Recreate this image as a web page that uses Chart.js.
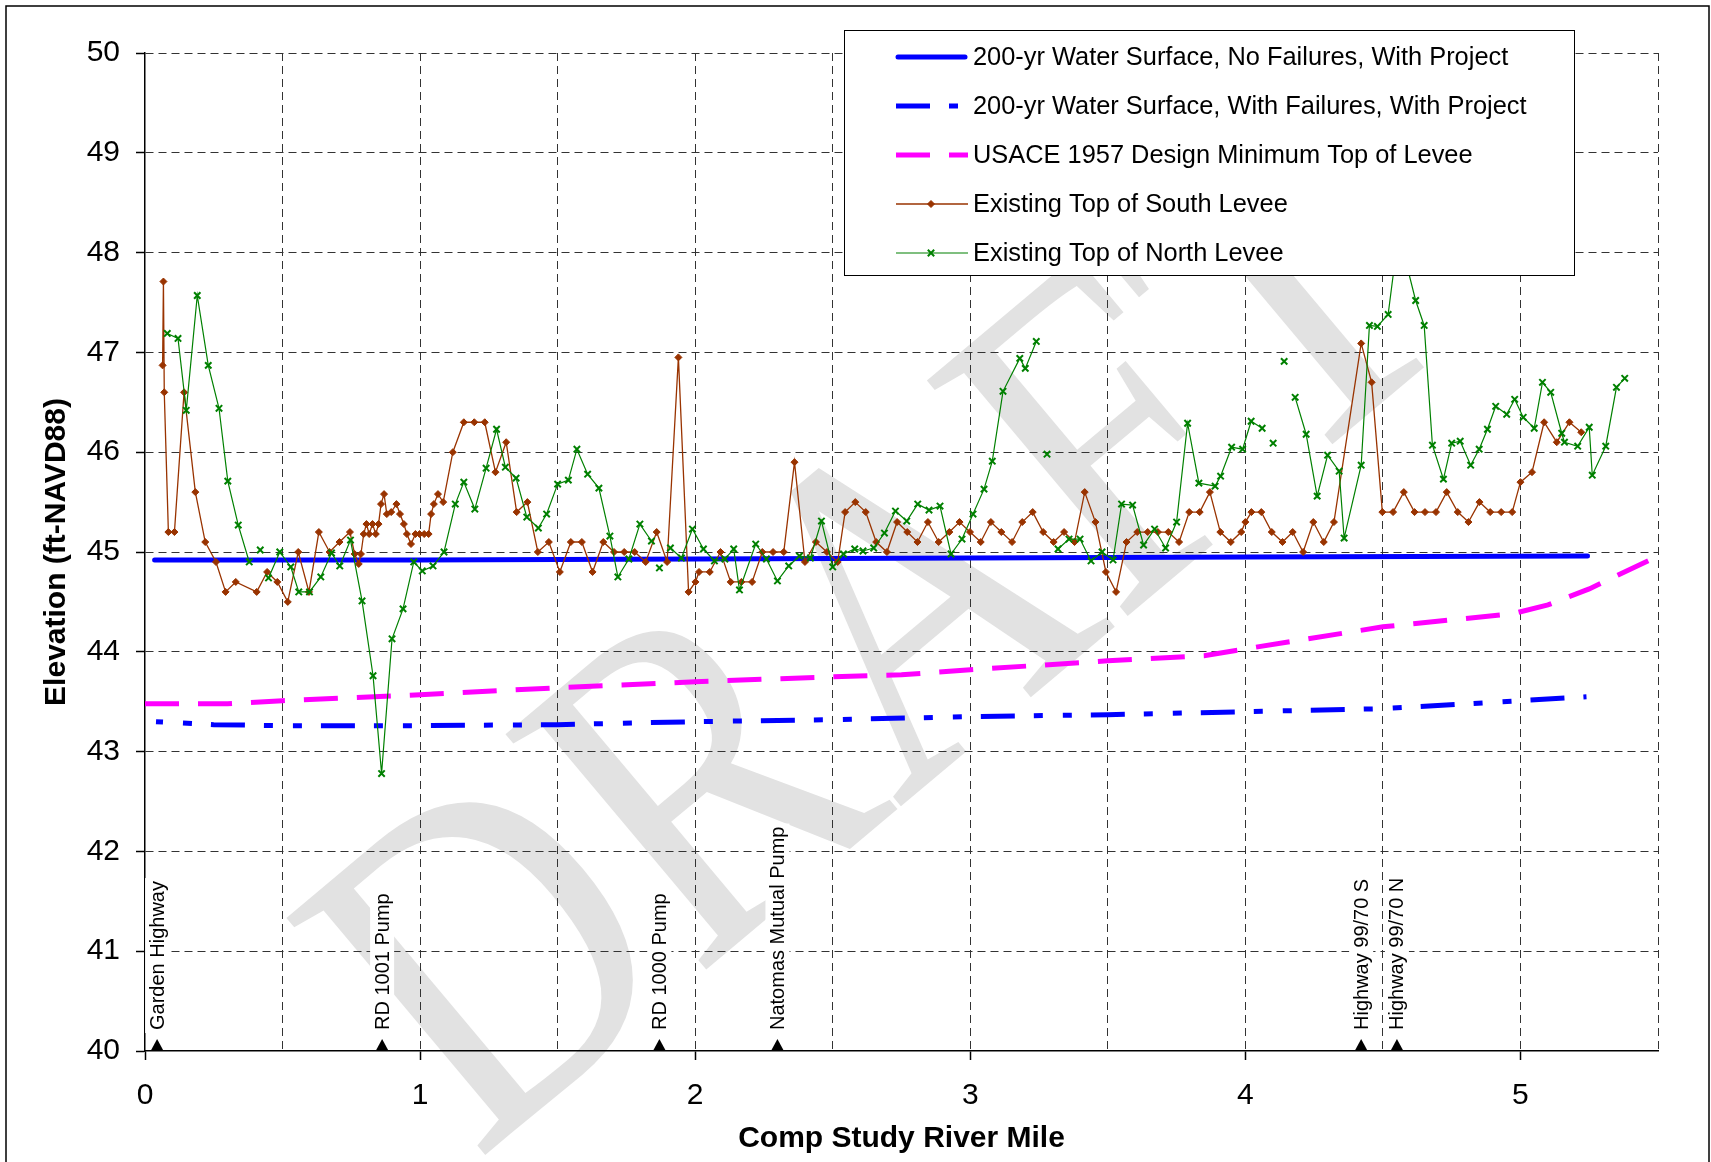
<!DOCTYPE html>
<html>
<head>
<meta charset="utf-8">
<script src="https://cdn.jsdelivr.net/npm/chart.js@4.4.1/dist/chart.umd.min.js"></script>
<style>
    html, body { margin: 0; padding: 0; background: #fff; }
</style>
</head>
<body>
<canvas id="myChart" width="1711" height="1162"></canvas>
<script>
// 200-yr water surface, no failures (mile, ft-NAVD88)
const noFailMile = [0.035, 1.0, 2.0, 3.0, 4.0, 5.244];
const noFailElev = [44.92, 44.92, 44.93, 44.94, 44.95, 44.96];

// 200-yr water surface, with failures
const withFailMile = [0.04, 0.25, 0.5, 1.0, 1.5, 2.0, 2.5, 3.0, 3.5, 4.0, 4.5, 5.0, 5.24];
const withFailElev = [43.30, 43.27, 43.26, 43.26, 43.27, 43.30, 43.32, 43.35, 43.37, 43.40, 43.43, 43.51, 43.55];

// USACE 1957 design minimum top of levee
const usaceMile = [0, 0.3, 0.5, 1.0, 1.5, 2.0, 2.5, 2.75, 3.0, 3.5, 3.85, 4.0, 4.5, 4.75, 4.97, 5.1, 5.25, 5.5];
const usaceElev = [43.48, 43.48, 43.51, 43.57, 43.64, 43.70, 43.75, 43.77, 43.82, 43.91, 43.96, 44.03, 44.25, 44.32, 44.38, 44.47, 44.63, 44.96];

// Existing top of south levee
const southMile = [
    0.064, 0.067, 0.070, 0.085, 0.107, 0.142, 0.183, 0.219, 0.258, 0.293, 0.330, 0.406, 0.444, 0.481, 0.519,
    0.557, 0.596, 0.632, 0.671, 0.707, 0.745, 0.762, 0.777, 0.785, 0.795, 0.805, 0.815, 0.827, 0.839, 0.849,
    0.858, 0.869, 0.879, 0.895, 0.914, 0.927, 0.941, 0.952, 0.967, 0.983, 0.998, 1.015, 1.031, 1.040, 1.050,
    1.065, 1.084, 1.119, 1.159, 1.197, 1.235, 1.274, 1.313, 1.351, 1.390, 1.428, 1.468, 1.508, 1.548, 1.588,
    1.627, 1.666, 1.705, 1.742, 1.780, 1.820, 1.860, 1.898, 1.939, 1.976, 2.001, 2.014, 2.053, 2.092, 2.129,
    2.168, 2.207, 2.244, 2.283, 2.322, 2.361, 2.399, 2.439, 2.479, 2.518, 2.545, 2.582, 2.620, 2.658, 2.697,
    2.734, 2.771, 2.808, 2.846, 2.885, 2.924, 2.961, 2.999, 3.038, 3.075, 3.113, 3.152, 3.189, 3.227, 3.265,
    3.303, 3.341, 3.379, 3.416, 3.455, 3.493, 3.530, 3.568, 3.607, 3.645, 3.682, 3.720, 3.759, 3.796, 3.834,
    3.871, 3.909, 3.947, 3.985, 4.000, 4.022, 4.058, 4.096, 4.135, 4.172, 4.210, 4.247, 4.285, 4.322, 4.421,
    4.459, 4.498, 4.537, 4.576, 4.615, 4.653, 4.693, 4.732, 4.772, 4.811, 4.851, 4.890, 4.930, 4.970, 5.000,
    5.042, 5.086, 5.132, 5.178, 5.221
];
const southElev = [
    46.87, 47.71, 46.60, 45.20, 45.20, 46.60, 45.60, 45.10, 44.90, 44.60, 44.70, 44.60, 44.80, 44.70, 44.50,
    45.00, 44.60, 45.20, 45.00, 45.10, 45.20, 44.98, 44.88, 44.98, 45.18, 45.28, 45.18, 45.28, 45.18, 45.28,
    45.48, 45.58, 45.38, 45.40, 45.48, 45.38, 45.28, 45.18, 45.08, 45.18, 45.18, 45.18, 45.18, 45.38, 45.48,
    45.58, 45.50, 46.00, 46.30, 46.30, 46.30, 45.80, 46.10, 45.40, 45.50, 45.00, 45.10, 44.80, 45.10, 45.10,
    44.80, 45.10, 45.00, 45.00, 45.00, 44.90, 45.20, 44.90, 46.95, 44.60, 44.70, 44.80, 44.80, 45.00, 44.70,
    44.70, 44.70, 45.00, 45.00, 45.00, 45.90, 44.90, 45.10, 45.00, 44.90, 45.40, 45.50, 45.40, 45.10, 45.00,
    45.30, 45.20, 45.10, 45.30, 45.10, 45.20, 45.30, 45.20, 45.10, 45.30, 45.20, 45.10, 45.30, 45.40, 45.20,
    45.10, 45.20, 45.10, 45.60, 45.30, 44.80, 44.60, 45.10, 45.20, 45.20, 45.20, 45.20, 45.10, 45.40, 45.40,
    45.60, 45.20, 45.10, 45.20, 45.30, 45.40, 45.40, 45.20, 45.10, 45.20, 45.00, 45.30, 45.10, 45.30, 47.09,
    46.70, 45.40, 45.40, 45.60, 45.40, 45.40, 45.40, 45.60, 45.40, 45.30, 45.50, 45.40, 45.40, 45.40, 45.70,
    45.80, 46.30, 46.10, 46.30, 46.20
];

// Existing top of north levee (null = break in the surveyed line)
const northMile = [
    0.081, 0.120, 0.150, 0.190, 0.230, 0.269, 0.301, 0.339, 0.379, 0.400, 0.419, 0.435, 0.449, 0.490, 0.530,
    0.559, 0.598, 0.639, 0.678, 0.708, 0.747, 0.789, 0.829, 0.860, 0.898, 0.938, 0.977, 1.008, 1.047, 1.087,
    1.128, 1.159, 1.199, 1.240, 1.278, 1.310, 1.349, 1.388, 1.430, 1.460, 1.500, 1.539, 1.570, 1.609, 1.650,
    1.690, 1.719, 1.759, 1.799, 1.841, 1.855, 1.870, 1.890, 1.910, 1.950, 1.990, 2.030, 2.070, 2.108, 2.140,
    2.161, 2.220, 2.259, 2.299, 2.340, 2.379, 2.419, 2.459, 2.500, 2.539, 2.580, 2.610, 2.649, 2.688, 2.728,
    2.769, 2.809, 2.850, 2.890, 2.930, 2.970, 3.010, 3.050, 3.080, 3.119, 3.180, 3.200, 3.240, 3.260, 3.279,
    3.300, 3.319, 3.359, 3.399, 3.439, 3.479, 3.519, 3.550, 3.590, 3.630, 3.670, 3.710, 3.750, 3.790, 3.831,
    3.890, 3.910, 3.950, 3.990, 4.021, 4.061, 4.080, 4.101, 4.120, 4.141, 4.160, 4.181, 4.221, 4.261, 4.299,
    4.341, 4.359, 4.421, 4.451, 4.480, 4.519, 4.557, 4.619, 4.650, 4.680, 4.720, 4.750, 4.781, 4.819, 4.850,
    4.880, 4.910, 4.950, 4.979, 5.010, 5.050, 5.080, 5.110, 5.150, 5.160, 5.208, 5.250, 5.261, 5.310, 5.349,
    5.379
];
const northElev = [
    47.19, 47.14, 46.42, 47.57, 46.87, 46.44, 45.71, 45.27, 44.90, null, 45.02, null, 44.74, 45.00, 44.85,
    44.60, 44.60, 44.75, 44.99, 44.86, 45.12, 44.51, 43.76, 42.78, 44.13, 44.43, 44.90, 44.81, 44.86, 45.00,
    45.48, 45.70, 45.43, 45.84, 46.23, 45.85, 45.74, 45.35, 45.24, 45.38, 45.68, 45.72, 46.03, 45.78, 45.64,
    45.16, 44.75, 44.93, 45.28, 45.11, null, 44.84, null, 45.04, 44.94, 45.23, 45.03, 44.91, 44.93, 45.03,
    44.62, 45.08, 44.93, 44.71, 44.86, 44.96, 44.94, 45.31, 44.85, 44.98, 45.03, 45.01, 45.04, 45.19, 45.41,
    45.31, 45.48, 45.42, 45.46, 44.98, 45.13, 45.38, 45.63, 45.91, 46.61, 46.94, 46.84, 47.11, null, 45.98,
    null, 45.03, 45.13, 45.13, 44.91, 45.00, 44.92, 45.48, 45.47, 45.07, 45.23, 45.04, 45.30, 46.29, 45.69,
    45.66, 45.76, 46.05, 46.03, 46.31, 46.24, null, 46.09, null, 46.91, null, 46.55, 46.18, 45.56, 45.97,
    45.81, 45.14, 45.87, 47.27, 47.26, 47.38, 48.20, 47.52, 47.27, 46.07, 45.73, 46.09, 46.11, 45.87, 46.03,
    46.23, 46.46, 46.38, 46.53, 46.35, 46.24, 46.70, 46.60, 46.19, 46.10, 46.06, 46.25, 45.77, 46.06, 46.65,
    46.74
];

// Structures marked along the axis
const structMile = [0.044, 0.862, 1.870, 2.299, 4.421, 4.551];
const structLabel = ['Garden Highway', 'RD 1001 Pump', 'RD 1000 Pump', 'Natomas Mutual Pump', 'Highway 99/70 S', 'Highway 99/70 N'];

const FONT = '"Liberation Sans", Arial, sans-serif';

function toPoints(xs, ys) {
    return xs.map((x, i) => ({ x: x, y: ys[i] }));
}

// White page, DRAFT watermark
const background = {
    id: 'background',
    beforeDraw(chart) {
        const c = chart.ctx;
        c.save();
        c.fillStyle = '#fff';
        c.fillRect(0, 0, chart.width, chart.height);
        c.translate(894, 650);
        c.rotate(-40 * Math.PI / 180);
        c.scale(0.88, 1.05);
        c.font = '450px "Liberation Serif", serif';
        c.fillStyle = '#e2e2e2';
        c.textAlign = 'center';
        c.textBaseline = 'middle';
        c.fillText('DRAFT', 0, 0);
        c.restore();
    }
};

// Triangles and vertical labels for the structures
const structures = {
    id: 'structures',
    afterDatasetsDraw(chart) {
        const c = chart.ctx;
        const x = chart.scales.x, y = chart.scales.y;
        const base = y.getPixelForValue(40);
        c.save();
        c.font = '20px ' + FONT;
        structMile.forEach((m, i) => {
            const px = x.getPixelForValue(m);
            c.save();
            c.translate(px, base - 21);
            c.rotate(-Math.PI / 2);
            const w = c.measureText(structLabel[i]).width;
            c.fillStyle = '#fff';
            c.fillRect(-3, -12, w + 6, 24);
            c.fillStyle = '#000';
            c.textAlign = 'left';
            c.textBaseline = 'middle';
            c.fillText(structLabel[i], 0, 1);
            c.restore();

            c.fillStyle = '#000';
            c.beginPath();
            c.moveTo(px, base - 12);
            c.lineTo(px - 6.5, base);
            c.lineTo(px + 6.5, base);
            c.closePath();
            c.fill();
        });
        c.restore();
    }
};

// Boxed legend in the upper right
const legendBox = {
    id: 'legendBox',
    afterDraw(chart) {
        const c = chart.ctx;
        const left = 844, top = 30, width = 730, height = 245;
        c.save();
        c.fillStyle = '#fff';
        c.fillRect(left, top, width, height);
        c.strokeStyle = '#000';
        c.lineWidth = 1;
        c.strokeRect(left + 0.5, top + 0.5, width, height);
        c.font = '25.4px ' + FONT;
        c.textBaseline = 'middle';
        c.textAlign = 'left';
        chart.data.datasets.forEach((ds, i) => {
            const yy = top + 27 + i * 49;
            c.save();
            c.strokeStyle = ds.borderColor;
            c.lineWidth = ds.borderWidth;
            c.setLineDash(ds.borderDash || []);
            c.lineCap = ds.borderCapStyle || 'butt';
            c.beginPath();
            if (c.lineCap === 'round') {
                c.moveTo(898, yy);
                c.lineTo(965, yy);
            } else {
                c.moveTo(896, yy);
                c.lineTo(968, yy);
            }
            c.stroke();
            c.restore();
            if (ds.pointRadius > 0) {
                c.save();
                c.fillStyle = ds.pointBackgroundColor;
                c.strokeStyle = ds.pointBorderColor;
                c.lineWidth = ds.pointBorderWidth;
                Chart.helpers.drawPoint(c, {
                    pointStyle: ds.pointStyle,
                    radius: ds.pointRadius,
                    borderWidth: ds.pointBorderWidth,
                    rotation: 0
                }, 931, yy);
                c.restore();
            }
            c.fillStyle = '#000';
            c.fillText(ds.label, 973, yy + 1);
        });
        c.restore();
    }
};

// Frame round the whole picture
const frame = {
    id: 'frame',
    afterDraw(chart) {
        const c = chart.ctx;
        c.save();
        c.strokeStyle = '#000';
        c.lineWidth = 1.5;
        c.strokeRect(6, 6, 1703, 1200);
        c.restore();
    }
};

const ctx = document.getElementById('myChart');
const myChart = new Chart(ctx, {
    type: 'scatter',
    data: {
        datasets: [{
            label: '200-yr Water Surface, No Failures, With Project',
            data: toPoints(noFailMile, noFailElev),
            showLine: true,
            borderColor: '#0000ff',
            borderWidth: 5,
            borderCapStyle: 'round',
            pointRadius: 0,
            order: 3
        }, {
            label: '200-yr Water Surface, With Failures, With Project',
            data: toPoints(withFailMile, withFailElev),
            showLine: true,
            borderColor: '#0000ff',
            borderWidth: 5,
            borderDash: [34, 19, 9, 20, 9, 19],
            borderDashOffset: 55,
            pointRadius: 0,
            order: 3
        }, {
            label: 'USACE 1957 Design Minimum Top of Levee',
            data: toPoints(usaceMile, usaceElev),
            showLine: true,
            borderColor: '#ff00ff',
            borderWidth: 5,
            borderDash: [34, 19],
            pointRadius: 0,
            order: 3
        }, {
            label: 'Existing Top of South Levee',
            data: toPoints(southMile, southElev),
            showLine: true,
            borderColor: '#993300',
            borderWidth: 1.3,
            pointStyle: 'rectRot',
            pointRadius: 3.5,
            pointBackgroundColor: '#993300',
            pointBorderColor: '#993300',
            pointBorderWidth: 1,
            order: 1
        }, {
            label: 'Existing Top of North Levee',
            data: toPoints(northMile, northElev),
            showLine: true,
            spanGaps: false,
            borderColor: '#008000',
            borderWidth: 1.2,
            pointStyle: 'crossRot',
            pointRadius: 4.5,
            pointBackgroundColor: '#008000',
            pointBorderColor: '#008000',
            pointBorderWidth: 2,
            order: 0
        }]
    },
    options: {
        responsive: false,
        animation: false,
        events: [],
        layout: { padding: { left: 0, top: 53, right: 53, bottom: 0 } },
        plugins: {
            legend: { display: false },
            tooltip: { enabled: false }
        },
        scales: {
            x: {
                type: 'linear',
                min: 0,
                max: 5.5,
                afterFit: (s) => { s.height = 111; },
                ticks: {
                    stepSize: 0.5,
                    autoSkip: false,
                    maxRotation: 0,
                    padding: 18,
                    color: '#000',
                    font: { family: FONT, size: 30 },
                    callback: (v) => Number.isInteger(v) ? v : ''
                },
                grid: {
                    color: (c) => (c.tick && c.tick.value === 0) ? 'rgba(0,0,0,0)' : '#333',
                    lineWidth: 1,
                    tickLength: 9,
                    tickWidth: 1.5,
                    tickBorderDash: [],
                    tickColor: (c) => (c.tick && Number.isInteger(c.tick.value)) ? '#000' : 'rgba(0,0,0,0)'
                },
                border: { display: true, color: '#000', width: 1.5, dash: [8, 5] },
                title: {
                    display: true,
                    text: 'Comp Study River Mile',
                    color: '#000',
                    font: { family: FONT, size: 30, weight: 'bold', lineHeight: 1.2 },
                    padding: { top: 0, bottom: 5 }
                }
            },
            y: {
                type: 'linear',
                min: 40,
                max: 50,
                afterFit: (s) => { s.width = 145; },
                ticks: {
                    stepSize: 1,
                    padding: 16,
                    color: '#000',
                    font: { family: FONT, size: 30 }
                },
                grid: {
                    color: (c) => (c.tick && c.tick.value === 40) ? 'rgba(0,0,0,0)' : '#333',
                    lineWidth: 1,
                    tickLength: 9,
                    tickWidth: 1.5,
                    tickBorderDash: [],
                    tickColor: '#000'
                },
                border: { display: true, color: '#000', width: 1.5, dash: [8, 5] },
                title: {
                    display: true,
                    text: 'Elevation (ft-NAVD88)',
                    color: '#000',
                    font: { family: FONT, size: 30, weight: 'bold', lineHeight: 1.2 },
                    padding: { top: 39, bottom: 0 }
                }
            }
        }
    },
    plugins: [background, structures, legendBox, frame]
});
</script>
</body>
</html>
